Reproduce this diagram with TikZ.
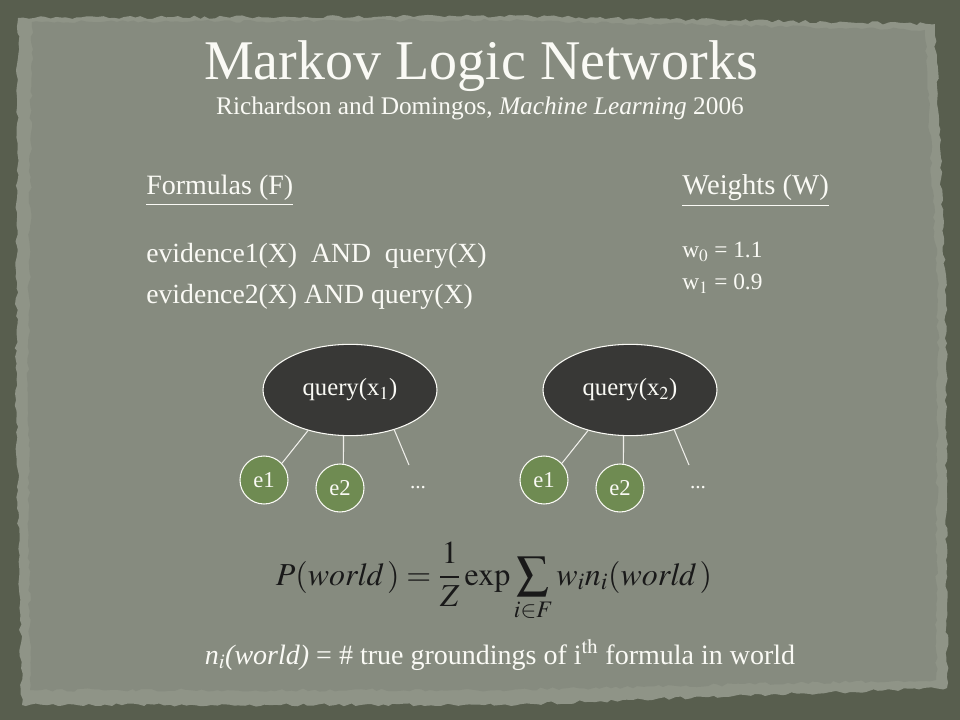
\documentclass[tikz,border=0pt]{standalone}
\usepackage{mathptmx}
\usepackage{fontspec}
\setmainfont{Liberation Serif}
\usetikzlibrary{shapes.geometric,decorations.pathmorphing}
\definecolor{bgdark}{RGB}{88,94,78}
\definecolor{paper}{RGB}{134,139,127}
\definecolor{rim}{RGB}{143,148,135}
\definecolor{ellfill}{RGB}{56,56,54}
\definecolor{evgreen}{RGB}{111,139,82}
\definecolor{txt}{RGB}{250,250,245}
\definecolor{mathcol}{RGB}{25,25,25}
\begin{document}
\begin{tikzpicture}[x=0.75pt,y=-0.75pt,
  txtstyle/.style={text=txt,inner sep=0pt,anchor=base west},
  querynode/.style={ellipse,fill=ellfill,draw=txt,line width=0.8pt,minimum width=130.5pt,minimum height=68.5pt,text=txt,font=\fontsize{18.5}{20}\selectfont,inner sep=0pt},
  evnode/.style={circle,fill=evgreen,draw=txt,line width=0.8pt,minimum size=36pt,inner sep=0pt,text=txt,font=\fontsize{17}{18}\selectfont},
  link/.style={draw=txt!90!gray,line width=0.8pt},
  rough/.style={decorate,decoration={random steps,segment length=4pt,amplitude=1.2pt}}]
\pgfmathsetseed{7}
\useasboundingbox (0,0) rectangle (960,720);
\fill[bgdark] (0,0) rectangle (960,720);
% paper with lighter rim
\fill[rim,rough] (18,18) -- (500,16) -- (935,24) -- (946,300) -- (947,688) -- (500,705) -- (22,705) -- (16,400) -- cycle;
\fill[paper,rough] (32,22) -- (500,20) -- (925,30) -- (938,300) -- (936,680) -- (500,690) -- (30,690) -- (28,400) -- cycle;
% title
\node[text=txt,inner sep=0pt,anchor=base] (title) at (481,80) {\fontsize{42}{46}\selectfont Markov Logic Networks};
\node[text=txt,inner sep=0pt,anchor=base] (sub) at (480,115) {\fontsize{19}{22}\selectfont Richardson and Domingos, \textit{Machine Learning} 2006};
% formulas
\node[txtstyle] (fhead) at (146,195) {\fontsize{21}{24}\selectfont\underline{Formulas (F)}};
\node[txtstyle] (f1) at (146,263) {\fontsize{20.8}{24}\selectfont evidence1(X)\ \ AND\ \ query(X)};
\node[txtstyle] (f2) at (146,303) {\fontsize{20.8}{24}\selectfont evidence2(X)\ AND\ query(X)};
% weights
\node[txtstyle] (whead) at (682,195) {\fontsize{21.5}{24}\selectfont\underline{Weights (W)}};
\node[txtstyle] (w0) at (682,258) {\fontsize{17.5}{20}\selectfont w$_{\mathrm{0}}$ = 1.1};
\node[txtstyle] (w1) at (682,290) {\fontsize{17.5}{20}\selectfont w$_{\mathrm{1}}$ = 0.9};
% network 1
\node[querynode] (q1) at (350,390) {query(x$_{\mathrm{1}}$)};
\node[evnode] (e1a) at (264,480) {e1};
\node[evnode] (e2a) at (340,488) {e2};
\node[text=txt,inner sep=0pt,font=\fontsize{16}{18}\selectfont] (dota) at (418,488) {...};
\coordinate (da) at (409,465);
\draw[link] (q1.224) -- (e1a.43);
\draw[link] (q1.262) -- (e2a.82);
\draw[link] (q1.318) -- (da);
% network 2
\node[querynode] (q2) at (630,390) {query(x$_{\mathrm{2}}$)};
\node[evnode] (e1b) at (544,480) {e1};
\node[evnode] (e2b) at (620,488) {e2};
\node[text=txt,inner sep=0pt,font=\fontsize{16}{18}\selectfont] (dotb) at (698,488) {...};
\coordinate (db) at (689,465);
\draw[link] (q2.224) -- (e1b.43);
\draw[link] (q2.262) -- (e2b.82);
\draw[link] (q2.318) -- (db);
% equation
\node[text=mathcol,inner sep=0pt,anchor=base] (eq) at (494,585) {\fontsize{24}{28}\selectfont $\displaystyle P(\mathit{world}\,)=\frac{1}{Z}\exp\sum_{i\in F} w_i n_i(\mathit{world}\,)$};
% bottom line
\node[text=txt,inner sep=0pt,anchor=base] (ni) at (500,664) {\fontsize{21}{24}\selectfont \textit{n$_{i}$(world)} = \# true groundings of i$^{\mathrm{th}}$ formula in world};
\end{tikzpicture}
\end{document}
